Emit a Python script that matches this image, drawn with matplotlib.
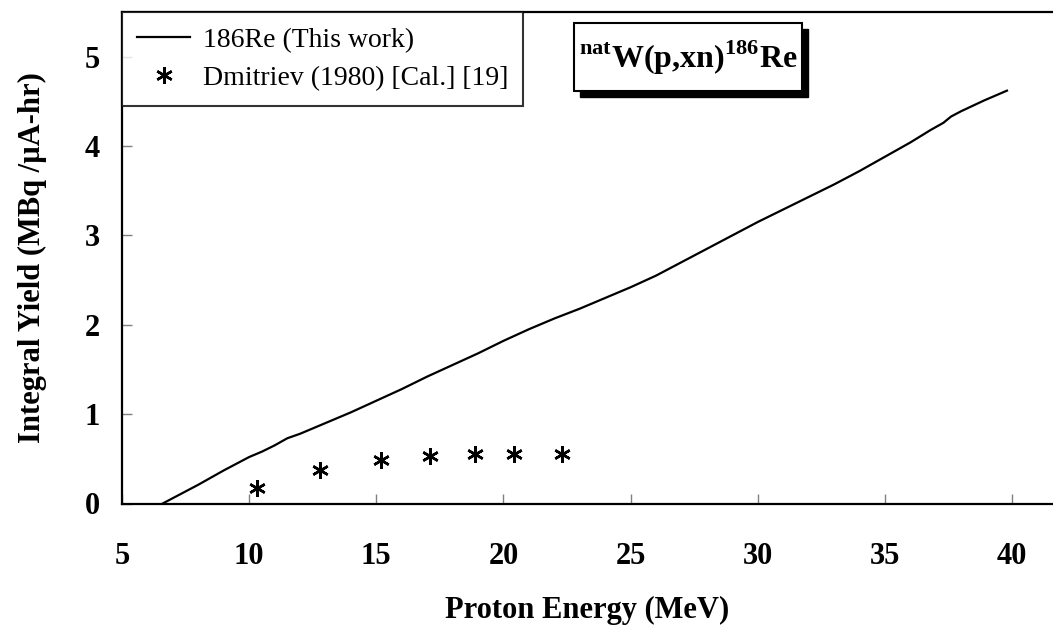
import matplotlib
matplotlib.use("Agg")
import matplotlib.pyplot as plt
from matplotlib.patches import Rectangle

plt.rcParams['font.family'] = ['Liberation Serif', 'DejaVu Serif']
plt.rcParams['mathtext.fontset'] = 'custom'
plt.rcParams['mathtext.rm'] = 'Liberation Serif'
plt.rcParams['mathtext.bf'] = 'Liberation Serif:bold'

# 186Re integral yield (this work)
energy = [6.6, 8, 9, 10, 10.5, 11, 11.5, 12, 13, 14, 15, 16, 17, 18, 19, 20, 21, 22, 23,
          24, 25, 26, 27, 28, 29, 30, 31, 32, 33, 34, 35, 36, 36.8, 37.3, 37.6, 38, 38.9, 39.8]
yield_ = [0.0, 0.21, 0.37, 0.52, 0.58, 0.65, 0.73, 0.78, 0.9, 1.02, 1.15, 1.28, 1.42, 1.55, 1.68,
          1.82, 1.95, 2.07, 2.18, 2.3, 2.42, 2.55, 2.7, 2.85, 3.0, 3.15, 3.29, 3.43,
          3.57, 3.72, 3.88, 4.04, 4.18, 4.26, 4.33, 4.39, 4.51, 4.62]

# Dmitriev (1980) calculated values
dm_energy = [10.3, 12.8, 15.2, 17.1, 18.9, 20.4, 22.3]
dm_yield = [0.17, 0.375, 0.49, 0.53, 0.555, 0.555, 0.555]

fig = plt.figure(figsize=(10.53, 6.31), dpi=100)
ax = fig.add_axes([122 / 1053, 1 - 503.5 / 631, 1 - 122 / 1053, 491.5 / 631])

ax.plot(energy, yield_, color='black', lw=1.6, label='186Re (This work)')
ax.plot(dm_energy, dm_yield, ls='none', marker=(6, 2, 0), ms=12, mew=1.8,
        color='black', label='Dmitriev (1980) [Cal.] [19]')

ax.set_xlim(5, 5 + (1053 - 122) / 25.43)
ax.set_ylim(0, 5.5)
ax.set_xticks([5, 10, 15, 20, 25, 30, 35, 40])
ax.set_yticks([0, 1, 2, 3, 4, 5])
ax.spines['right'].set_visible(False)
for s in ['left', 'bottom', 'top']:
    ax.spines[s].set_linewidth(1.6)
ax.tick_params(direction='in', length=7, width=1, color='gray', labelsize=22)
ax.tick_params(axis='x', pad=28)
ax.tick_params(axis='y', pad=16)
for lab in ax.get_xticklabels() + ax.get_yticklabels():
    lab.set_fontweight('bold')

ax.set_xlabel('Proton Energy (MeV)', fontsize=22, fontweight='bold', labelpad=18)
ax.set_ylabel('Integral Yield (MBq /\u00b5A-hr)', fontsize=22, fontweight='bold', labelpad=27)

leg = ax.legend(loc='upper left', borderaxespad=0, fontsize=20, frameon=True,
                fancybox=False, handlelength=1.9, borderpad=0.55, labelspacing=0.45,
                handletextpad=0.45)
leg.get_frame().set_edgecolor('black')
leg.get_frame().set_linewidth(1.5)

# reaction label box with drop shadow
fig.patches.append(Rectangle((580 / 1053, 1 - 97 / 631), 228 / 1053, 68 / 631,
                             transform=fig.transFigure, facecolor='black', edgecolor='black'))
fig.patches.append(Rectangle((574 / 1053, 1 - 91 / 631), 228 / 1053, 68 / 631,
                             transform=fig.transFigure, facecolor='white', edgecolor='black', lw=1.5))
fig.text(688 / 1053, 1 - 58 / 631,
         r'$^{\mathbf{nat}}\mathbf{W(p{,}xn)}^{\mathbf{186}}\mathbf{Re}$',
         fontsize=23, ha='center', va='center')

fig.savefig('out.png', dpi=100)
